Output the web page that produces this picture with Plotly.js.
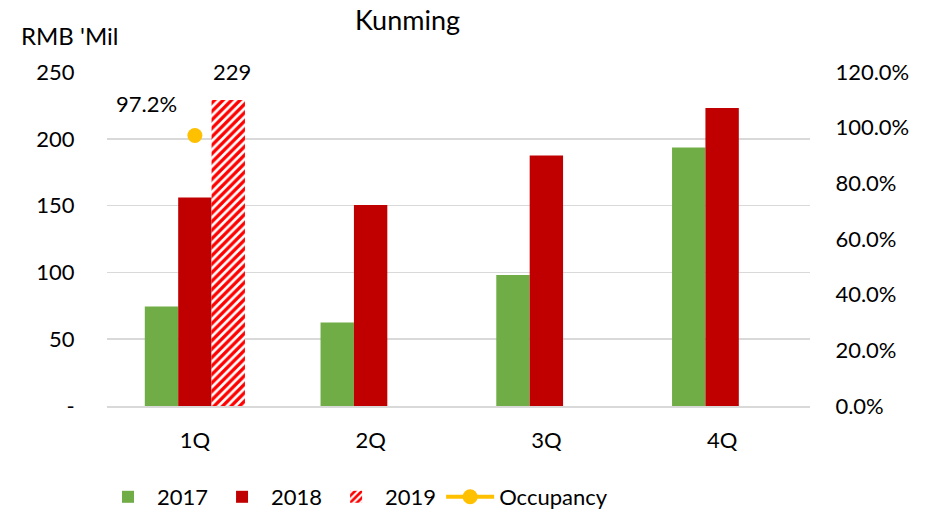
<!DOCTYPE html>
<html>
<head>
<meta charset="utf-8">
<script src="https://cdn.plot.ly/plotly-3.0.1.min.js"></script>
<style>html,body{margin:0;padding:0;background:#fff;}#chart{width:926px;height:512px;}</style>
</head>
<body>
<div id="chart"></div>
<script>
const categories = ['1Q', '2Q', '3Q', '4Q'];
const rev2017 = [74.5, 62.5, 98, 193.5];
const rev2018 = [156, 150.5, 187.5, 223];
const rev2019Cats = ['1Q'];
const rev2019 = [229];
const occCats = ['1Q'];
const occupancy = [0.972];
const leftTickVals = [0, 50, 100, 150, 200, 250];
const leftTickText = ['-', '50', '100', '150', '200', '250'];
const rightTickVals = [0, 0.2, 0.4, 0.6, 0.8, 1.0, 1.2];

const FONT = 'Lato, "Open Sans", sans-serif';

const traces = [
  {type: 'bar', name: '2017', x: categories, y: rev2017, marker: {color: '#70AD47'}, hoverinfo: 'skip'},
  {type: 'bar', name: '2018', x: categories, y: rev2018, marker: {color: '#C00000'}, hoverinfo: 'skip'},
  {type: 'bar', name: '2019', x: rev2019Cats, y: rev2019,
   marker: {color: '#FFFFFF', pattern: {shape: '/', fgcolor: '#FF0000', bgcolor: '#FFFFFF', size: 6, solidity: 0.55}},
   hoverinfo: 'skip'},
  {type: 'scatter', mode: 'lines+markers', name: 'Occupancy', x: occCats, y: occupancy, yaxis: 'y2',
   marker: {color: '#FFC000', size: 15}, line: {color: '#FFC000', width: 4}, cliponaxis: false,
   hoverinfo: 'skip'}
];

const labelFont = {family: FONT, size: 22, color: '#000'};
const annotations = [
  {text: "RMB 'Mil", xref: 'paper', yref: 'paper', x: (69 - 107) / 703, y: (406 - 35) / 334,
   xanchor: 'center', yanchor: 'middle', showarrow: false, font: {family: FONT, size: 24, color: '#000'}}
];
rev2019.forEach((v, i) => annotations.push({
  text: String(v), x: rev2019Cats[i], y: v, xref: 'x', yref: 'y', xshift: 37, yshift: 13,
  xanchor: 'center', yanchor: 'bottom', showarrow: false, font: labelFont
}));
occupancy.forEach((v, i) => annotations.push({
  text: (v * 100).toFixed(1) + '%', x: occCats[i], y: v, xref: 'x', yref: 'y2', xshift: -16, yshift: 16,
  xanchor: 'right', yanchor: 'bottom', showarrow: false, font: labelFont
}));

const layout = {
  width: 926, height: 512,
  margin: {l: 107, r: 116, t: 72, b: 106},
  paper_bgcolor: '#fff', plot_bgcolor: '#fff',
  font: {family: FONT, size: 22, color: '#000'},
  barmode: 'group', bargap: 0.43, bargroupgap: 0,
  title: {text: 'Kunming', x: 0.44, xanchor: 'center', xref: 'container', y: 0.959, yanchor: 'middle', yref: 'container',
          font: {family: FONT, size: 27, color: '#000'}},
  xaxis: {type: 'category', categoryorder: 'array', categoryarray: categories,
          showline: true, linecolor: '#D9D9D9', linewidth: 1.5, showgrid: false, zeroline: false,
          ticks: 'outside', ticklen: 14, tickcolor: 'rgba(0,0,0,0)', tickfont: labelFont},
  yaxis: {range: [0, 250], tickvals: leftTickVals, ticktext: leftTickText,
          showgrid: true, gridcolor: '#D9D9D9', gridwidth: 1.5, zeroline: false, showline: false,
          ticks: 'outside', ticklen: 27, tickcolor: 'rgba(0,0,0,0)', tickfont: labelFont},
  yaxis2: {overlaying: 'y', side: 'right', range: [0, 1.2], tickvals: rightTickVals, tickformat: '.1%',
           showgrid: false, zeroline: false, showline: false,
           ticks: 'outside', ticklen: 20, tickcolor: 'rgba(0,0,0,0)', tickfont: labelFont},
  legend: {orientation: 'h', xref: 'container', yref: 'container', x: 99 / 926, xanchor: 'left',
           y: 15 / 512, yanchor: 'middle', itemwidth: 48, traceorder: 'normal',
           font: labelFont, bgcolor: 'rgba(0,0,0,0)'},
  annotations: annotations,
  showlegend: true
};

Plotly.newPlot('chart', traces, layout, {staticPlot: true, displayModeBar: false});
</script>
</body>
</html>
